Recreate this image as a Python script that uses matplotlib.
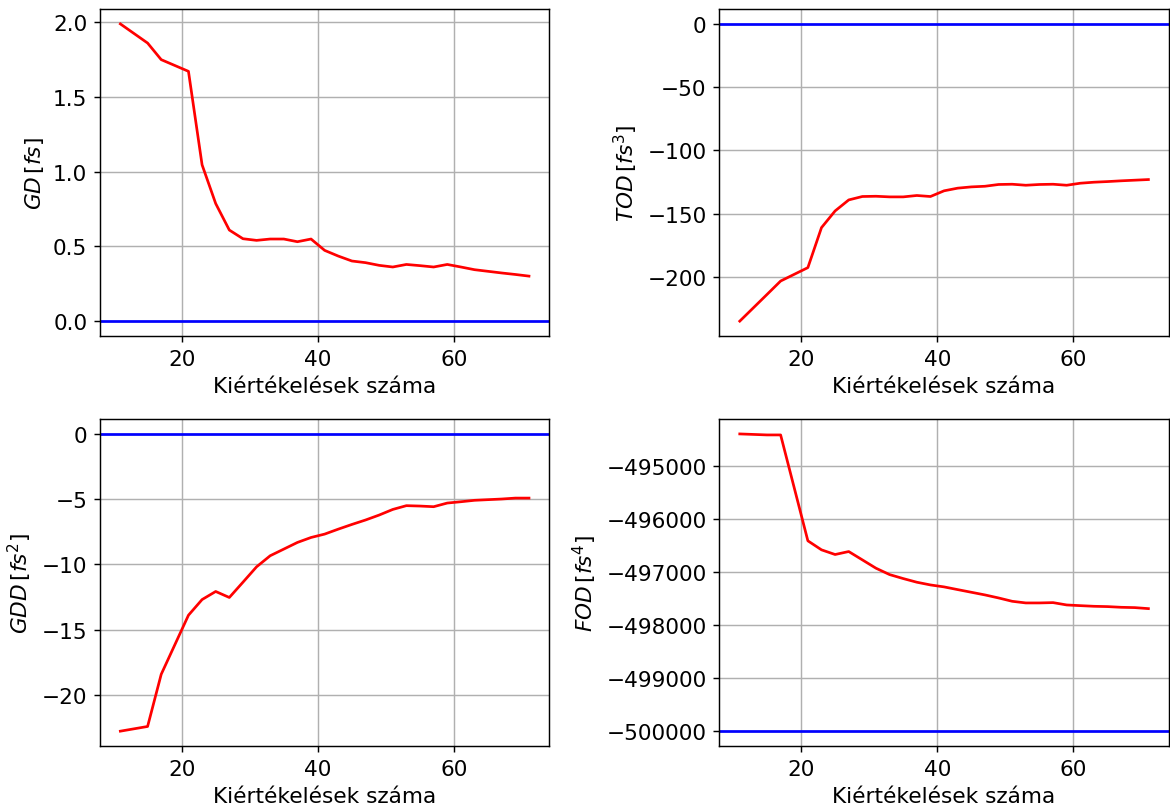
import numpy as np
import matplotlib.pyplot as plt

plt.rcParams['font.size'] = 12

# number of evaluations
evals = [11, 15, 17, 21, 23, 25, 27, 29, 31, 33, 35, 37, 39, 41, 43, 45,
         47, 49, 51, 53, 55, 57, 59, 61, 63, 65, 67, 69, 71]

gd = [1.987, 1.859, 1.748, 1.670, 1.045, 0.786, 0.609, 0.551, 0.540, 0.549,
      0.549, 0.531, 0.549, 0.473, 0.435, 0.402, 0.391, 0.373, 0.362, 0.379,
      0.371, 0.362, 0.379, 0.362, 0.344, 0.333, 0.322, 0.312, 0.301]

tod = [-234.9, -213.8, -203.2, -192.6, -161.0, -147.8, -139.1, -136.4, -136.2,
       -136.7, -136.7, -135.6, -136.4, -131.9, -129.8, -128.8, -128.3, -126.9,
       -126.7, -127.5, -126.9, -126.7, -127.5, -125.9, -125.1, -124.6, -124.0,
       -123.5, -123.0]

gdd = [-22.79, -22.43, -18.43, -13.90, -12.70, -12.08, -12.54, -11.37, -10.19,
       -9.34, -8.83, -8.32, -7.94, -7.68, -7.30, -6.94, -6.60, -6.22, -5.79,
       -5.50, -5.53, -5.58, -5.30, -5.20, -5.09, -5.04, -4.99, -4.92, -4.92]

fod = [-494402, -494421, -494421, -496415, -496585, -496673, -496617, -496774,
       -496931, -497051, -497126, -497195, -497246, -497283, -497334, -497384,
       -497434, -497491, -497554, -497585, -497585, -497579, -497623, -497636,
       -497648, -497654, -497667, -497673, -497692]

# target (original) values
gd_true = 0
gdd_true = 0
tod_true = 0
fod_true = -500000

fig, axs = plt.subplots(2, 2, figsize=(9.0, 6.223), dpi=130)

panels = [
    (axs[0, 0], gd, gd_true, r'$GD\,[fs]$'),
    (axs[0, 1], tod, tod_true, r'$TOD\,[fs^3]$'),
    (axs[1, 0], gdd, gdd_true, r'$GDD\,[fs^2]$'),
    (axs[1, 1], fod, fod_true, r'$FOD\,[fs^4]$'),
]

for ax, vals, true_val, label in panels:
    ax.plot(evals, vals, color='red')
    ax.axhline(true_val, color='blue')
    ax.set_xlabel('Kiértékelések száma')
    ax.set_ylabel(label)
    ax.grid(True)
    ax.ticklabel_format(axis='y', style='plain', useOffset=False)

fig.subplots_adjust(left=0.0854, right=0.999, top=0.9876, bottom=0.0766,
                    wspace=0.378, hspace=0.254)
fig.savefig('out.png', dpi=130)
